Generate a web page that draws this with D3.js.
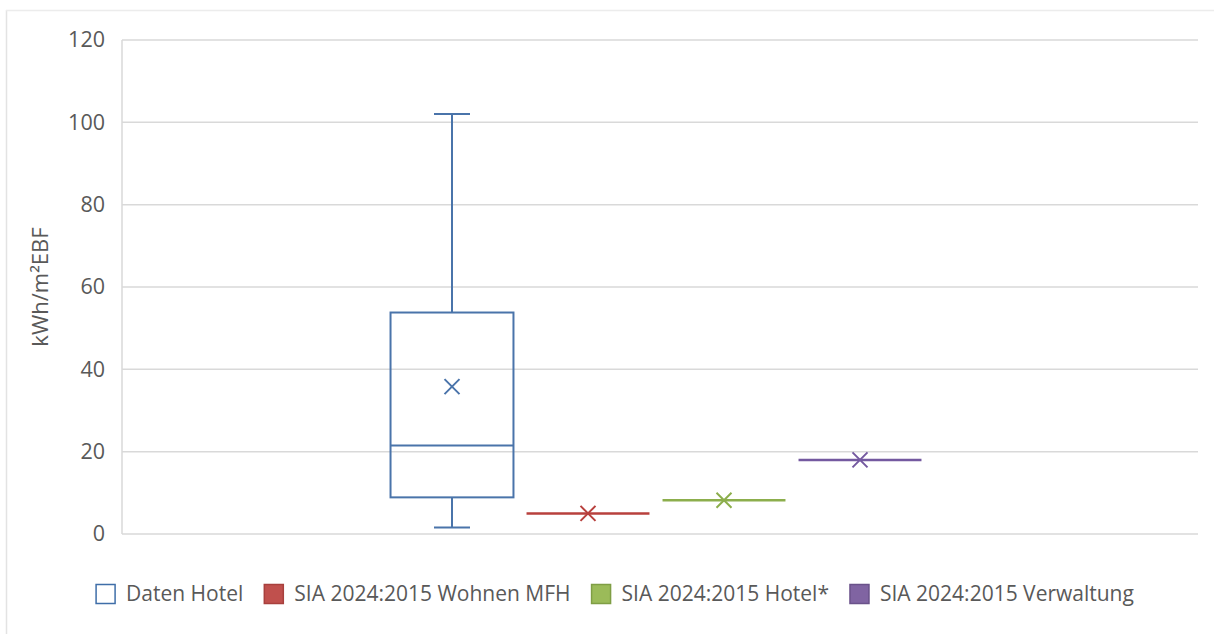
<!DOCTYPE html>
<html>
<head>
<meta charset="utf-8">
<script src="https://cdn.jsdelivr.net/npm/d3@7"></script>
<style>
  html, body { margin: 0; padding: 0; background: #ffffff; }
  svg { display: block; font-family: "Open Sans", "DejaVu Sans", sans-serif; }
</style>
</head>
<body>
<svg id="chart" width="1214" height="634"></svg>
<script>
// Series shown side by side within the single category
const seriesNames = ["Daten Hotel", "SIA 2024:2015 Wohnen MFH", "SIA 2024:2015 Hotel*", "SIA 2024:2015 Verwaltung"];
// Box statistics of the hotel data set (kWh/m²EBF)
const hotelMin = 1.6;
const hotelQ1 = 8.9;
const hotelMedian = 21.5;
const hotelQ3 = 53.8;
const hotelMax = 102;
const hotelMean = 35.8;
// SIA 2024:2015 reference values (one value each, box collapses to a line)
const siaValues = [5, 8.2, 18];
const yTicks = [0, 20, 40, 60, 80, 100, 120];

const strokeColors = ["#4a74aa", "#b8403d", "#8cae4c", "#7459a0"];
const fillColors = ["#ffffff", "#c0504d", "#9bbb59", "#8064a2"];
const legendBorders = ["#3f6ea8", "#a8403d", "#7f9e45", "#6a528a"];

const svg = d3.select("#chart");
const W = 1214, H = 634;
const plot = { left: 122, right: 1198, top: 40, bottom: 534 };

// faint outer frame (left and top edges)
svg.append("line").attr("x1", 6.5).attr("x2", 6.5).attr("y1", 10).attr("y2", H)
  .attr("stroke", "#e3e3e3").attr("stroke-width", 1.5);
svg.append("line").attr("x1", 6).attr("x2", W).attr("y1", 10.5).attr("y2", 10.5)
  .attr("stroke", "#ececec").attr("stroke-width", 1.5);

const y = d3.scaleLinear().domain([0, 120]).range([plot.bottom, plot.top]);

// one category across the plot; series laid out inside it
const xSeries = d3.scaleBand()
  .domain(seriesNames)
  .range([384, 928])
  .paddingInner(0.096)
  .paddingOuter(0.048);

// gridlines
svg.append("g").selectAll("line").data(yTicks).join("line")
  .attr("x1", plot.left).attr("x2", plot.right)
  .attr("y1", d => y(d)).attr("y2", d => y(d))
  .attr("stroke", "#d9d9d9").attr("stroke-width", 1.5);

// y axis line
svg.append("line").attr("x1", plot.left).attr("x2", plot.left)
  .attr("y1", plot.top).attr("y2", plot.bottom)
  .attr("stroke", "#d9d9d9").attr("stroke-width", 1.5);

// y axis tick labels
const yAxis = d3.axisLeft(y).tickValues(yTicks).tickSize(0).tickPadding(17);
const gy = svg.append("g").attr("transform", `translate(${plot.left},0)`).call(yAxis);
gy.select(".domain").remove();
gy.selectAll("text").attr("fill", "#595959").style("font-size", "21.5px")
  .style("font-family", "'Open Sans', sans-serif");

// y axis title
svg.append("text")
  .attr("transform", `translate(48,${(plot.top + plot.bottom) / 2}) rotate(-90)`)
  .attr("text-anchor", "middle")
  .attr("fill", "#595959").style("font-size", "22px")
  .text("kWh/m²EBF");

function cross(g, cx, cy, color) {
  const s = 7.5;
  g.append("path")
    .attr("d", `M${cx - s},${cy - s}L${cx + s},${cy + s}M${cx - s},${cy + s}L${cx + s},${cy - s}`)
    .attr("stroke", color).attr("stroke-width", 2).attr("fill", "none");
}

// hotel box plot
const bx = xSeries(seriesNames[0]);
const bw = xSeries.bandwidth();
const cx = bx + bw / 2;
const box = svg.append("g");
const c0 = strokeColors[0];
box.append("line").attr("x1", cx).attr("x2", cx).attr("y1", y(hotelMax)).attr("y2", y(hotelQ3))
  .attr("stroke", c0).attr("stroke-width", 2);
box.append("line").attr("x1", cx).attr("x2", cx).attr("y1", y(hotelQ1)).attr("y2", y(hotelMin))
  .attr("stroke", c0).attr("stroke-width", 2);
box.append("line").attr("x1", cx - 18).attr("x2", cx + 18).attr("y1", y(hotelMax)).attr("y2", y(hotelMax))
  .attr("stroke", c0).attr("stroke-width", 2);
box.append("line").attr("x1", cx - 18).attr("x2", cx + 18).attr("y1", y(hotelMin)).attr("y2", y(hotelMin))
  .attr("stroke", c0).attr("stroke-width", 2);
box.append("rect").attr("x", bx).attr("y", y(hotelQ3)).attr("width", bw)
  .attr("height", y(hotelQ1) - y(hotelQ3))
  .attr("fill", "none").attr("stroke", c0).attr("stroke-width", 2);
box.append("line").attr("x1", bx).attr("x2", bx + bw).attr("y1", y(hotelMedian)).attr("y2", y(hotelMedian))
  .attr("stroke", c0).attr("stroke-width", 2);
cross(box, cx, y(hotelMean), c0);

// SIA reference series: flat box at the single value with mean marker
siaValues.forEach((v, i) => {
  const name = seriesNames[i + 1];
  const x0 = xSeries(name);
  const col = strokeColors[i + 1];
  const g = svg.append("g");
  g.append("line").attr("x1", x0).attr("x2", x0 + bw).attr("y1", y(v)).attr("y2", y(v))
    .attr("stroke", col).attr("stroke-width", 2.5);
  cross(g, x0 + bw / 2, y(v), col);
});

// legend
const legend = svg.append("g");
const legendY = 594;
const sq = 19;
const items = legend.selectAll("g").data(seriesNames).join("g");
items.append("rect")
  .attr("width", sq).attr("height", sq).attr("y", legendY - sq / 2)
  .attr("fill", (d, i) => fillColors[i])
  .attr("stroke", (d, i) => legendBorders[i]).attr("stroke-width", 1.5);
items.append("text")
  .attr("x", sq + 11).attr("y", legendY).attr("dy", "0.35em")
  .attr("fill", "#595959").style("font-size", "21px")
  .text(d => d);
let xPos = 0;
const offsets = [];
items.each(function() {
  const w = this.querySelector("text").getComputedTextLength();
  offsets.push(xPos);
  xPos += sq + 11 + w + 21;
});
const totalW = xPos - 21;
const startX = 615 - totalW / 2;
items.attr("transform", (d, i) => `translate(${startX + offsets[i]},0)`);
</script>
</body>
</html>
